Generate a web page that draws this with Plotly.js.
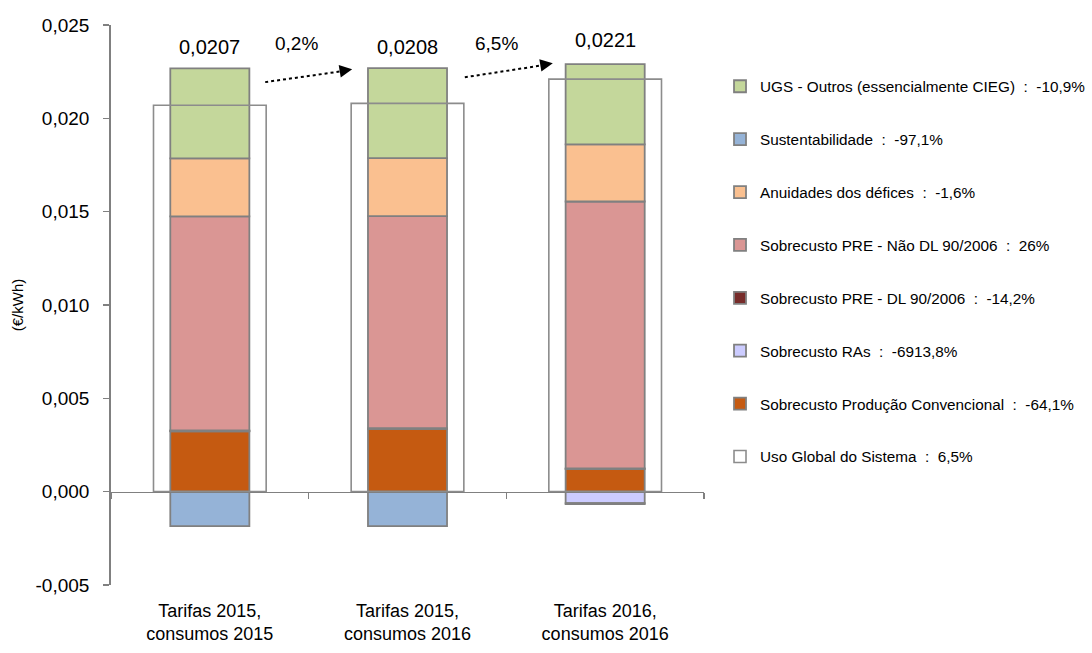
<!DOCTYPE html>
<html>
<head>
<meta charset="utf-8">
<script src="https://cdn.plot.ly/plotly-3.0.1.min.js"></script>
<style>
html,body{margin:0;padding:0;background:#fff;}
#chart{width:1092px;height:653px;}
</style>
</head>
<body>
<div id="chart"></div>
<script>
// ---- data ----
const categories = ['Tarifas 2015,<br>consumos 2015', 'Tarifas 2015,<br>consumos 2016', 'Tarifas 2016,<br>consumos 2016'];

const prodConvencional = [0.00323, 0.00336, 0.00121];
const sobrecustoRAs    = [0.000009, 0.000009, -0.00062];
const preDL90          = [0.00004, 0.00004, 0.0000343];
const preNaoDL         = [0.01147, 0.01135, 0.01430];
const anuidades        = [0.00311, 0.00311, 0.00306];
const sustentabilidade = [-0.00185, -0.00185, -0.00005];
const ugsOutros        = [0.00482, 0.00482, 0.00430];
const usoGlobal        = [0.0207, 0.0208, 0.0221];

const seriesNames = [
  'Sobrecusto Produção Convencional',
  'Sobrecusto RAs',
  'Sobrecusto PRE - DL 90/2006',
  'Sobrecusto PRE - Não DL 90/2006',
  'Anuidades dos défices',
  'Sustentabilidade',
  'UGS - Outros (essencialmente CIEG)',
  'Uso Global do Sistema'
];
const seriesChange = ['-64,1%', '-6913,8%', '-14,2%', '26%', '-1,6%', '-97,1%', '-10,9%', '6,5%'];

const changeLabels = ['0,2%', '6,5%'];
const totalLabels = ['0,0207', '0,0208', '0,0221'];

const yTickVals = [-0.005, 0, 0.005, 0.010, 0.015, 0.020, 0.025];
const yTickText = ['-0,005', '0,000', '0,005', '0,010', '0,015', '0,020', '0,025'];

// ---- styling ----
const FONT = 'Liberation Sans, Arial, sans-serif';
const BORDER = '#808080';
const colors = ['#C55A11', '#CCCCFF', '#772C2A', '#DA9694', '#FAC090', '#95B3D7', '#C4D79B'];
const stackSeries = [prodConvencional, sobrecustoRAs, preDL90, preNaoDL, anuidades, sustentabilidade, ugsOutros];
const ranks = [7, 6, 5, 4, 3, 2, 1];

const traces = stackSeries.map((vals, i) => ({
  type: 'bar',
  x: categories,
  y: vals,
  name: seriesNames[i] + '  :  ' + seriesChange[i],
  legendgroup: 'g' + i,
  legendrank: ranks[i],
  width: 0.40,
  marker: {color: colors[i], line: {color: BORDER, width: 1.8}},
  hoverinfo: 'skip'
}));

traces.push({
  type: 'bar',
  x: categories,
  y: usoGlobal,
  xaxis: 'x2',
  name: seriesNames[7] + '  :  ' + seriesChange[7],
  legendgroup: 'g7',
  legendrank: 8,
  width: 0.57,
  marker: {color: 'rgba(255,255,255,0)', line: {color: '#8C8C8C', width: 1.6}},
  hoverinfo: 'skip'
});

// totals on top of stacks
const posTop = categories.map((c, k) =>
  stackSeries.reduce((s, arr) => s + Math.max(arr[k], 0), 0));

const annotations = categories.map((c, k) => ({
  x: k, y: posTop[k], xref: 'x2', yref: 'y',
  text: totalLabels[k], showarrow: false,
  yanchor: 'bottom', yshift: k === 2 ? 11 : 8,
  font: {family: FONT, size: 20, color: '#000'}
}));

// arrows between bars
const arrowStart = [[0.28, 0.02194], [1.29, 0.02220]];
const arrowEnd   = [[0.72, 0.02263], [1.735, 0.02295]];
const shapes = [];
for (let i = 0; i < 2; i++) {
  shapes.push({
    type: 'line', xref: 'x2', yref: 'y',
    x0: arrowStart[i][0], y0: arrowStart[i][1],
    x1: arrowEnd[i][0] - 0.04, y1: arrowEnd[i][1] - 0.00009,
    line: {color: '#000', width: 2, dash: 'dot'}
  });
  annotations.push({
    x: arrowEnd[i][0], y: arrowEnd[i][1], xref: 'x2', yref: 'y',
    ax: -12, ay: 2, showarrow: true, arrowhead: 2, arrowsize: 1.4,
    arrowwidth: 1.8, arrowcolor: '#000', text: ''
  });
  annotations.push({
    x: (arrowStart[i][0] + arrowEnd[i][0]) / 2 - 0.06, y: 0.0240,
    xref: 'x2', yref: 'y', text: changeLabels[i], showarrow: false,
    font: {family: FONT, size: 19, color: '#000'}
  });
}

const layout = {
  width: 1092, height: 653,
  margin: {l: 111, r: 388, t: 25, b: 68, autoexpand: false},
  paper_bgcolor: '#fff', plot_bgcolor: '#fff',
  barmode: 'relative',
  font: {family: FONT, color: '#000'},
  showlegend: true,
  legend: {
    x: 1.027, y: 0.92, xanchor: 'left', yanchor: 'top',
    traceorder: 'grouped', tracegroupgap: 30,
    itemwidth: 30,
    font: {family: FONT, size: 15.3, color: '#000'},
    bgcolor: 'rgba(0,0,0,0)'
  },
  xaxis: {
    type: 'category', range: [-0.5, 2.5],
    showline: false, ticks: '', showgrid: false, zeroline: false,
    tickfont: {family: FONT, size: 18, color: '#000'},
    ticklabelstandoff: 13,
    anchor: 'y', fixedrange: true
  },
  xaxis2: {
    type: 'category', range: [-0.5, 2.5], overlaying: 'x',
    anchor: 'free', position: 1 / 6,
    showline: true, linecolor: BORDER, linewidth: 1.8,
    ticks: 'outside', tickson: 'boundaries', ticklen: 6, tickcolor: BORDER, tickwidth: 1.5,
    showticklabels: false, showgrid: false, zeroline: false, fixedrange: true
  },
  yaxis: {
    range: [-0.005, 0.025],
    tickvals: yTickVals, ticktext: yTickText,
    showline: true, linecolor: BORDER, linewidth: 1.8,
    ticks: 'outside', ticklen: 6, tickcolor: BORDER, tickwidth: 1.5,
    ticklabelstandoff: 10,
    showgrid: false, zeroline: false,
    tickfont: {family: FONT, size: 19, color: '#000'},
    title: {text: '(€/kWh)', font: {family: FONT, size: 15, color: '#000'}, standoff: 8},
    fixedrange: true
  },
  shapes: shapes,
  annotations: annotations
};

Plotly.newPlot('chart', traces, layout, {displayModeBar: false, staticPlot: true});
</script>
</body>
</html>
